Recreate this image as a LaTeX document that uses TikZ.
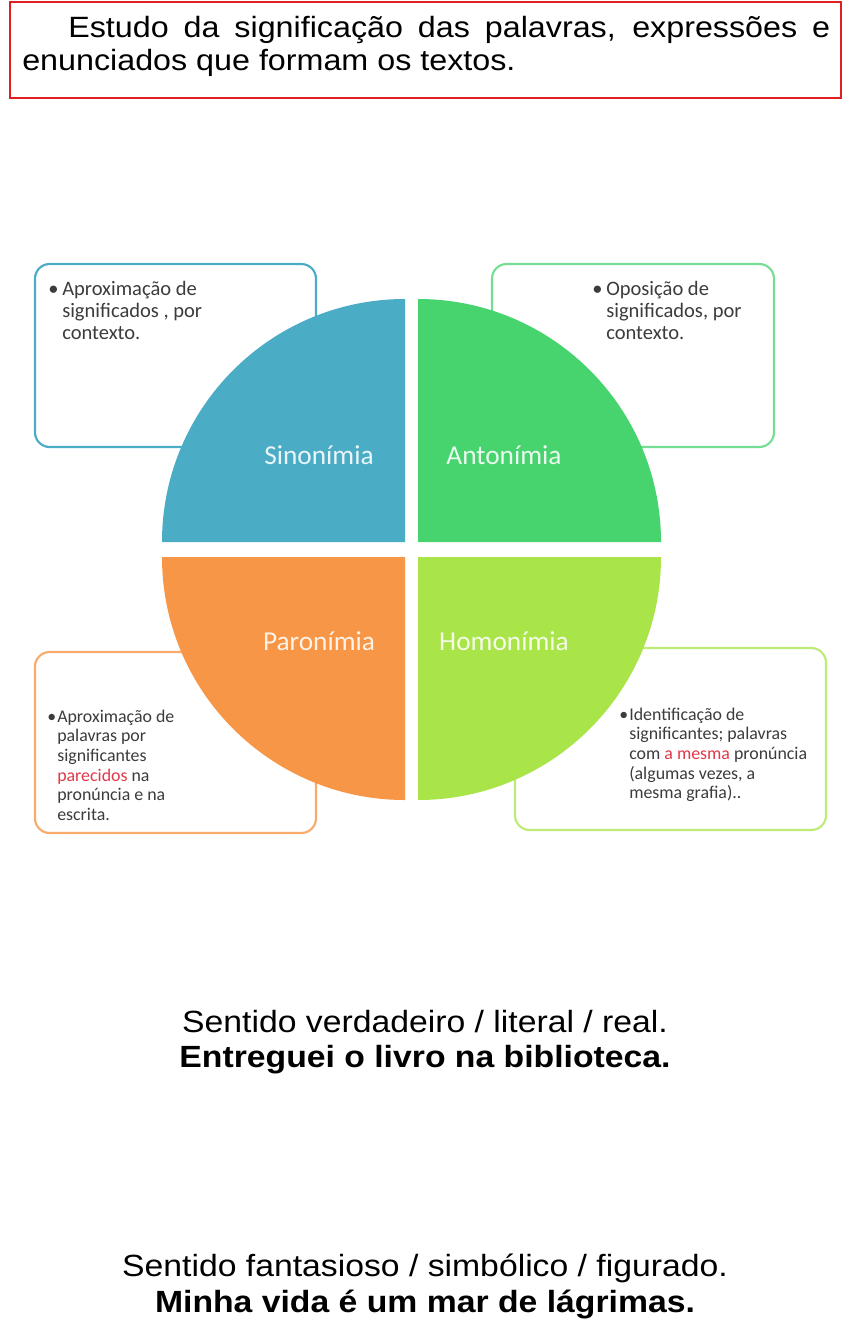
\documentclass[tikz,border=0pt]{standalone}
\usepackage{fontspec}
\setmainfont[FakeStretch=1.1]{Liberation Sans}
\newfontfamily\calibri{Carlito}
\definecolor{sinoblue}{HTML}{4BACC6}
\definecolor{antogreen}{HTML}{47D36E}
\definecolor{paroorange}{HTML}{F79646}
\definecolor{homolime}{HTML}{A9E449}
\definecolor{framered}{HTML}{E02020}
\definecolor{boxgrey}{HTML}{3C3C3C}
\definecolor{hilite}{HTML}{E0394A}
\tikzset{
  infobox/.style={line width=1.6pt, rounded corners=11pt, fill=white},
  quadlabel/.style={font=\calibri\fontsize{20.5}{24}\selectfont, anchor=base, inner sep=0pt},
  boxtext/.style={font=\calibri\fontsize{15.4}{16.5}\selectfont, text=boxgrey, anchor=base west, inner sep=0pt},
  smalltext/.style={boxtext, font=\calibri\fontsize{13.4}{14.8}\selectfont},
  sense/.style={font=\fontsize{23}{27}\selectfont, anchor=base, inner sep=0pt},
  example/.style={sense, font=\bfseries\fontsize{23}{27}\selectfont}
}

\begin{document}
\begin{tikzpicture}[x=0.75pt,y=-0.75pt]
  \useasboundingbox (0,0) rectangle (851,1321);

  % intro frame
  \draw[framered, line width=1.1pt] (10,2) rectangle (841,98);
  \node[anchor=base west, inner sep=0pt, text width=606pt, align=justify,
    font=\fontsize{22}{24.75}\selectfont] (intro) at (22,37)
    {\hspace*{34.5pt}Estudo da significação das palavras, expressões e\linebreak
     enunciados que formam os textos.};

  % boxes behind the circle
  \draw[infobox, draw=sinoblue] (35,264) rectangle (316,447);
  \draw[infobox, draw=antogreen!75!white] (492,264) rectangle (774,447);
  \draw[infobox, draw=paroorange!80!white] (35,652) rectangle (316,833);
  \draw[infobox, draw=homolime!75!white] (515,648) rectangle (826,830);

  \node[boxtext] (sinotext) at (48,295)
    {\begin{tabular}[t]{@{}p{10.5pt}@{}l@{}}
      \textbullet & Aproximação de\\ & significados , por\\ & contexto.
    \end{tabular}};
  \node[boxtext] (antotext) at (592,295)
    {\begin{tabular}[t]{@{}p{10.5pt}@{}l@{}}
      \textbullet & Oposição de\\ & significados, por\\ & contexto.
    \end{tabular}};
  \node[smalltext] (parotext) at (47,722)
    {\begin{tabular}[t]{@{}p{7.5pt}@{}l@{}}
      \textbullet & Aproximação de\\ & palavras por\\ & significantes\\
      & \textcolor{hilite}{parecidos} na\\ & pronúncia e na\\ & escrita.
    \end{tabular}};
  \node[smalltext] (homotext) at (619,720)
    {\begin{tabular}[t]{@{}p{7.5pt}@{}l@{}}
      \textbullet & Identificação de\\ & significantes; palavras\\
      & com \textcolor{hilite}{a mesma} pronúncia\\ & (algumas vezes, a\\ & mesma grafia)..
    \end{tabular}};

  % quadrants
  \fill[sinoblue] (405,542) -- (162,542) arc[start angle=180, end angle=270, radius=243] -- cycle;
  \fill[antogreen] (418,542) -- (418,299) arc[start angle=270, end angle=360, radius=243] -- cycle;
  \fill[paroorange] (405,557) -- (162,557) arc[start angle=180, end angle=90, radius=243] -- cycle;
  \fill[homolime] (418,557) -- (661,557) arc[start angle=0, end angle=90, radius=243] -- cycle;

  \node[quadlabel, text=sinoblue!12!white] (sino) at (319,464) {Sinonímia};
  \node[quadlabel, text=antogreen!12!white] (anto) at (504,464) {Antonímia};
  \node[quadlabel, text=paroorange!12!white] (paro) at (319,650) {Paronímia};
  \node[quadlabel, text=homolime!12!white] (homo) at (504,650) {Homonímia};

  % senses
  \node[sense] (literal) at (425,1032) {Sentido verdadeiro / literal / real.};
  \node[example] (literalex) at (425,1067) {Entreguei o livro na biblioteca.};
  \node[sense] (figurado) at (425,1276) {Sentido fantasioso / simbólico / figurado.};
  \node[example] (figuradoex) at (425,1312) {Minha vida é um mar de lágrimas.};
\end{tikzpicture}
\end{document}
